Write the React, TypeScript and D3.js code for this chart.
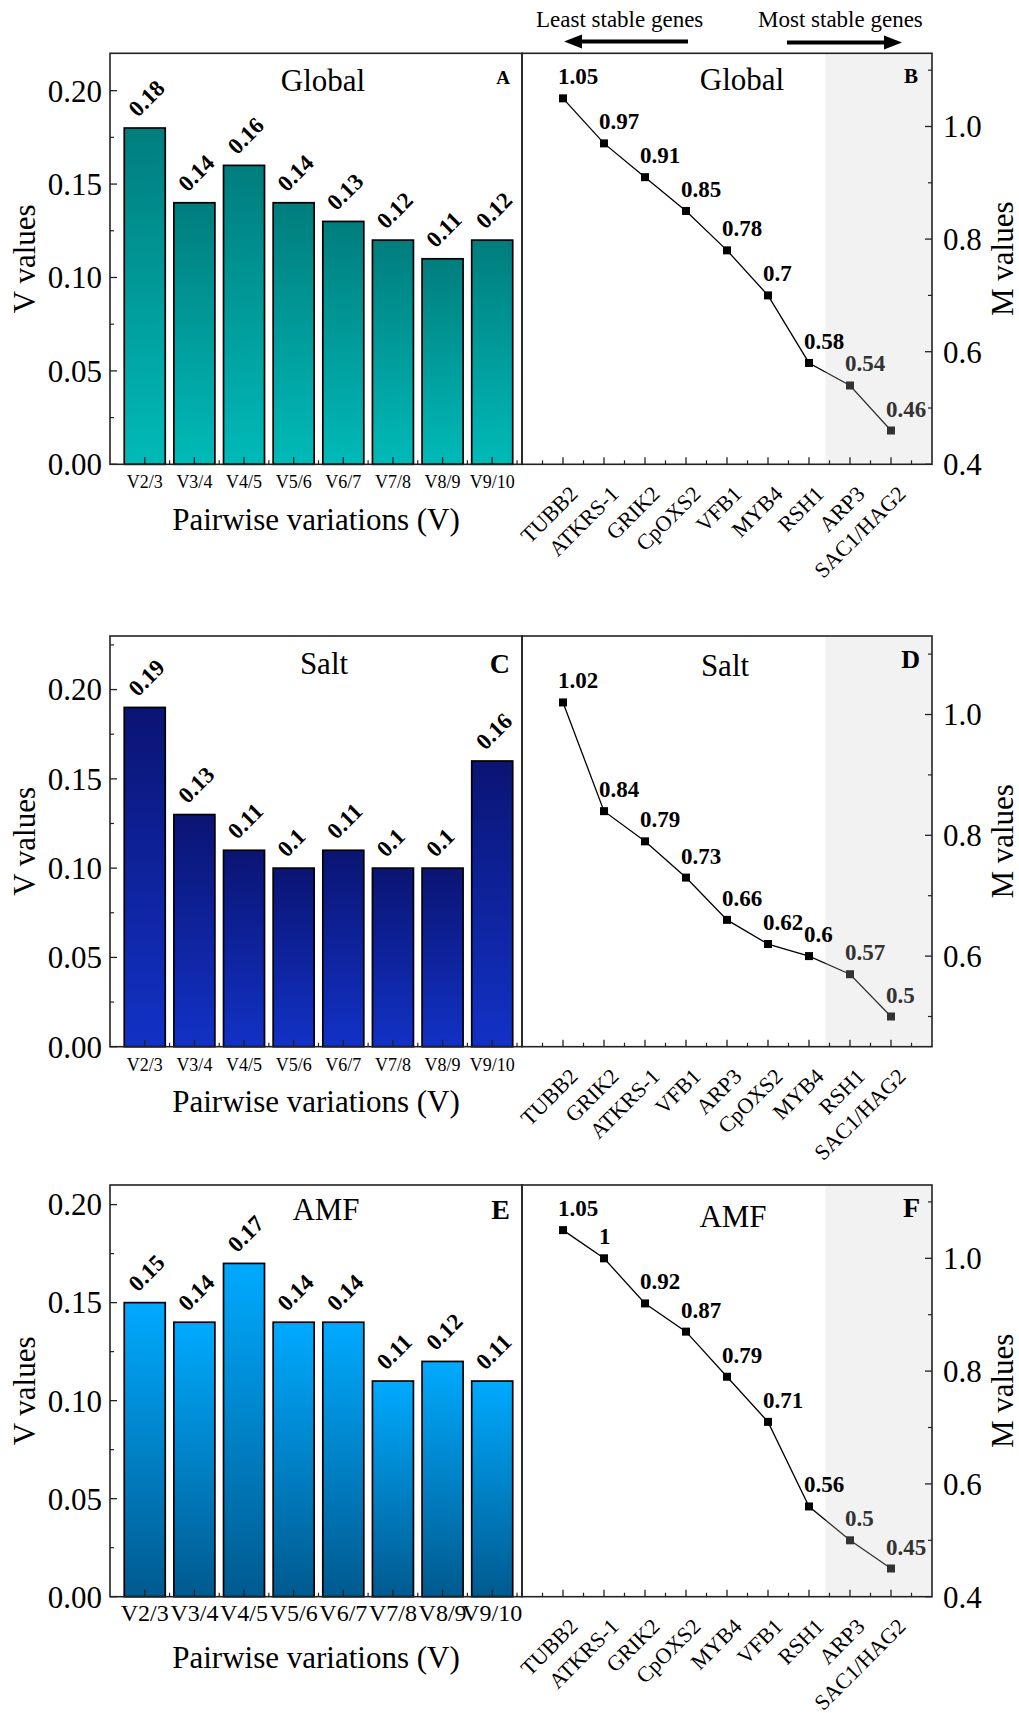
import React from 'react';
import * as d3 from 'd3';

// ---------- data ----------
const pairLabels = ['V2/3', 'V3/4', 'V4/5', 'V5/6', 'V6/7', 'V7/8', 'V8/9', 'V9/10'];
const globalV = [0.18, 0.14, 0.16, 0.14, 0.13, 0.12, 0.11, 0.12];
const saltV = [0.19, 0.13, 0.11, 0.1, 0.11, 0.1, 0.1, 0.16];
const amfV = [0.15, 0.14, 0.17, 0.14, 0.14, 0.11, 0.12, 0.11];

const globalGenes = ['TUBB2', 'ATKRS-1', 'GRIK2', 'CpOXS2', 'VFB1', 'MYB4', 'RSH1', 'ARP3', 'SAC1/HAG2'];
const globalM = [1.05, 0.97, 0.91, 0.85, 0.78, 0.7, 0.58, 0.54, 0.46];
const saltGenes = ['TUBB2', 'GRIK2', 'ATKRS-1', 'VFB1', 'ARP3', 'CpOXS2', 'MYB4', 'RSH1', 'SAC1/HAG2'];
const saltM = [1.02, 0.84, 0.79, 0.73, 0.66, 0.62, 0.6, 0.57, 0.5];
const amfGenes = ['TUBB2', 'ATKRS-1', 'GRIK2', 'CpOXS2', 'MYB4', 'VFB1', 'RSH1', 'ARP3', 'SAC1/HAG2'];
const amfM = [1.05, 1, 0.92, 0.87, 0.79, 0.71, 0.56, 0.5, 0.45];

const vTicks = [0, 0.05, 0.1, 0.15, 0.2];
const vMinorTicks = [0.025, 0.075, 0.125, 0.175, 0.225];
const mTicks = [0.4, 0.6, 0.8, 1.0];
const mMinorTicks = [0.5, 0.7, 0.9, 1.1];
const conditions = ['Global', 'Salt', 'AMF'];
const letters = [['A', 'B'], ['C', 'D'], ['E', 'F']];
const headerLeft = 'Least stable genes';
const headerRight = 'Most stable genes';

// ---------- layout ----------
const FONT = '"Liberation Serif", "Times New Roman", Times, serif';
const W = 1019;
const H = 1713;
const LX0 = 110;
const LX1 = 522;
const RX1 = 932;
const shadeStart = 7.4;

const rows = [
  {
    top: 53.3, bottom: 464.3, vMax: 0.22, mMin: 0.4, mMax: 1.13,
    barTop: '#007d7d', barBottom: '#00bab8',
    pairFont: 18, letterSizes: [19, 21],
    titleL: { x: 323, dy: 38 }, titleR: { x: 742, dy: 37 },
    letterL: { x: 510, dy: 31 }, letterR: { x: 918, dy: 30 },
    xTitleDy: 66,
    values: globalV, genes: globalGenes, m: globalM,
  },
  {
    top: 636, bottom: 1046.7, vMax: 0.23, mMin: 0.45, mMax: 1.13,
    barTop: '#0a1473', barBottom: '#1232c6',
    pairFont: 18, letterSizes: [28, 26],
    titleL: { x: 324, dy: 38 }, titleR: { x: 725, dy: 40 },
    letterL: { x: 510, dy: 37 }, letterR: { x: 920, dy: 32 },
    xTitleDy: 65,
    values: saltV, genes: saltGenes, m: saltM,
  },
  {
    top: 1185, bottom: 1596.7, vMax: 0.21, mMin: 0.4, mMax: 1.13,
    barTop: '#00aaff', barBottom: '#005a8f',
    pairFont: 24, letterSizes: [28, 28],
    titleL: { x: 326, dy: 35 }, titleR: { x: 733, dy: 42 },
    letterL: { x: 510, dy: 34 }, letterR: { x: 920, dy: 32 },
    xTitleDy: 71,
    values: amfV, genes: amfGenes, m: amfM,
  },
];

function BarPanel({ row, idx }: { row: any; idx: number }) {
  const x = d3.scaleLinear().domain([0.3, 8.6]).range([LX0, LX1]);
  const y = d3.scaleLinear().domain([0, row.vMax]).range([row.bottom, row.top]);
  const unit = x(2) - x(1);
  const bw = unit * 0.826;
  const gid = `barGrad${idx}`;
  const fmt = d3.format('.2f');
  const majorX = d3.range(1, 9);
  const minorX = d3.range(1.5, 9, 1);
  return (
    <g>
      <defs>
        <linearGradient id={gid} x1="0" y1="0" x2="0" y2="1">
          <stop offset="0%" stopColor={row.barTop} />
          <stop offset="100%" stopColor={row.barBottom} />
        </linearGradient>
      </defs>
      {row.values.map((v: number, i: number) => (
        <rect key={i} x={x(i + 1) - bw / 2} y={y(v)} width={bw} height={y(0) - y(v)}
          fill={`url(#${gid})`} stroke="#000" strokeWidth={1.7} />
      ))}
      {row.values.map((v: number, i: number) => (
        <text key={'l' + i} transform={`translate(${x(i + 1) - 7},${y(v) - 10}) rotate(-45)`}
          fontFamily={FONT} fontWeight="bold" fontSize={23} fill="#000">{String(v)}</text>
      ))}
      {/* y ticks */}
      {vTicks.map((t) => (
        <g key={'yt' + t}>
          <line x1={LX0} x2={LX0 + 7} y1={y(t)} y2={y(t)} stroke="#222" strokeWidth={1.3} />
          <text x={LX0 - 8} y={y(t)} dy="0.35em" textAnchor="end" fontFamily={FONT} fontSize={31}>{fmt(t)}</text>
        </g>
      ))}
      {vMinorTicks.filter((t) => t < row.vMax).map((t) => (
        <line key={'ym' + t} x1={LX0} x2={LX0 + 4} y1={y(t)} y2={y(t)} stroke="#222" strokeWidth={1.2} />
      ))}
      {/* x ticks */}
      {majorX.map((t) => (
        <line key={'xt' + t} x1={x(t)} x2={x(t)} y1={row.bottom} y2={row.bottom - 7} stroke="#222" strokeWidth={1.3} />
      ))}
      {minorX.map((t) => (
        <line key={'xm' + t} x1={x(t)} x2={x(t)} y1={row.bottom} y2={row.bottom - 4} stroke="#222" strokeWidth={1.2} />
      ))}
      {pairLabels.map((l, i) => (
        <text key={'xl' + i} x={x(i + 1)} y={row.bottom + 24} textAnchor="middle" fontFamily={FONT}
          fontSize={row.pairFont}>{l}</text>
      ))}
      <text x={316} y={row.bottom + row.xTitleDy} textAnchor="middle" fontFamily={FONT} fontSize={31}>Pairwise variations (V)</text>
      <text transform={`translate(35,${(row.top + row.bottom) / 2}) rotate(-90)`} textAnchor="middle"
        fontFamily={FONT} fontSize={31}>V values</text>
      <text x={row.titleL.x} y={row.top + row.titleL.dy} textAnchor="middle" fontFamily={FONT} fontSize={31}>{conditions[idx]}</text>
      <text x={row.letterL.x} y={row.top + row.letterL.dy} textAnchor="end" fontFamily={FONT} fontWeight="bold"
        fontSize={row.letterSizes[0]}>{letters[idx][0]}</text>
      <rect x={LX0} y={row.top} width={LX1 - LX0} height={row.bottom - row.top} fill="none" stroke="#222" strokeWidth={1.6} />
    </g>
  );
}

function LinePanel({ row, idx }: { row: any; idx: number }) {
  const x = d3.scaleLinear().domain([0, 10]).range([LX1, RX1]);
  const y = d3.scaleLinear().domain([row.mMin, row.mMax]).range([row.bottom, row.top]);
  const line = d3.line<number>().x((_, i) => x(i + 1)).y((d) => y(d));
  const fmt = d3.format('.1f');
  const majorX = d3.range(1, 10);
  const minorX = d3.range(0.5, 10, 1);
  const ms = 8;
  const inShade = (i: number) => i + 1 > shadeStart;
  return (
    <g>
      <path d={line(row.m) || ''} fill="none" stroke="#000" strokeWidth={1.3} />
      {row.m.map((v: number, i: number) => (
        <rect key={i} x={x(i + 1) - ms / 2} y={y(v) - ms / 2} width={ms} height={ms} fill="#000" />
      ))}
      <rect x={x(shadeStart)} y={row.top} width={RX1 - x(shadeStart)} height={row.bottom - row.top}
        fill="rgb(203,203,203)" fillOpacity={0.25} />
      {row.m.map((v: number, i: number) => (
        <text key={'l' + i} x={x(i + 1) - 5} y={y(v) - 14} fontFamily={FONT} fontWeight="bold" fontSize={23}
          fill={inShade(i) ? '#333' : '#000'}>{String(v)}</text>
      ))}
      {mTicks.filter((t) => t >= row.mMin).map((t) => (
        <g key={'yt' + t}>
          <line x1={RX1} x2={RX1 - 7} y1={y(t)} y2={y(t)} stroke="#222" strokeWidth={1.3} />
          <text x={RX1 + 11} y={y(t)} dy="0.35em" textAnchor="start" fontFamily={FONT} fontSize={31}>{fmt(t)}</text>
        </g>
      ))}
      {mMinorTicks.map((t) => (
        <line key={'ym' + t} x1={RX1} x2={RX1 - 4} y1={y(t)} y2={y(t)} stroke="#222" strokeWidth={1.2} />
      ))}
      {majorX.map((t) => (
        <line key={'xt' + t} x1={x(t)} x2={x(t)} y1={row.bottom} y2={row.bottom - 7} stroke="#222" strokeWidth={1.3} />
      ))}
      {minorX.map((t) => (
        <line key={'xm' + t} x1={x(t)} x2={x(t)} y1={row.bottom} y2={row.bottom - 4} stroke="#222" strokeWidth={1.2} />
      ))}
      {row.genes.map((g: string, i: number) => (
        <text key={'g' + i} transform={`translate(${x(i + 1) + 16},${row.bottom + 31}) rotate(-45)`} textAnchor="end"
          fontFamily={FONT} fontSize={22}>{g}</text>
      ))}
      <text transform={`translate(1013,${(row.top + row.bottom) / 2}) rotate(-90)`} textAnchor="middle"
        fontFamily={FONT} fontSize={31}>M values</text>
      <text x={row.titleR.x} y={row.top + row.titleR.dy} textAnchor="middle" fontFamily={FONT} fontSize={31}>{conditions[idx]}</text>
      <text x={row.letterR.x} y={row.top + row.letterR.dy} textAnchor="end" fontFamily={FONT} fontWeight="bold"
        fontSize={row.letterSizes[1]}>{letters[idx][1]}</text>
      <rect x={LX1} y={row.top} width={RX1 - LX1} height={row.bottom - row.top} fill="none" stroke="#222" strokeWidth={1.6} />
    </g>
  );
}

function Header() {
  const ay = 41.5;
  return (
    <g>
      <text x={536} y={27} fontFamily={FONT} fontSize={23}>{headerLeft}</text>
      <text x={758} y={27} fontFamily={FONT} fontSize={23}>{headerRight}</text>
      <line x1={580} x2={688} y1={ay} y2={ay} stroke="#000" strokeWidth={4} />
      <path d={`M564,${ay} L582,${ay - 7} L582,${ay + 7} Z`} fill="#000" />
      <line x1={787} x2={886} y1={ay + 1} y2={ay + 1} stroke="#000" strokeWidth={4} />
      <path d={`M902,${ay + 1} L884,${ay - 6} L884,${ay + 8} Z`} fill="#000" />
    </g>
  );
}

export default function App() {
  return (
    <svg width={W} height={H} viewBox={`0 0 ${W} ${H}`} style={{ position: 'absolute', left: 0, top: 0, background: '#fff' }}>
      <rect width={W} height={H} fill="#fff" />
      <Header />
      {rows.map((row, i) => (
        <g key={i}>
          <BarPanel row={row} idx={i} />
          <LinePanel row={row} idx={i} />
        </g>
      ))}
    </svg>
  );
}
